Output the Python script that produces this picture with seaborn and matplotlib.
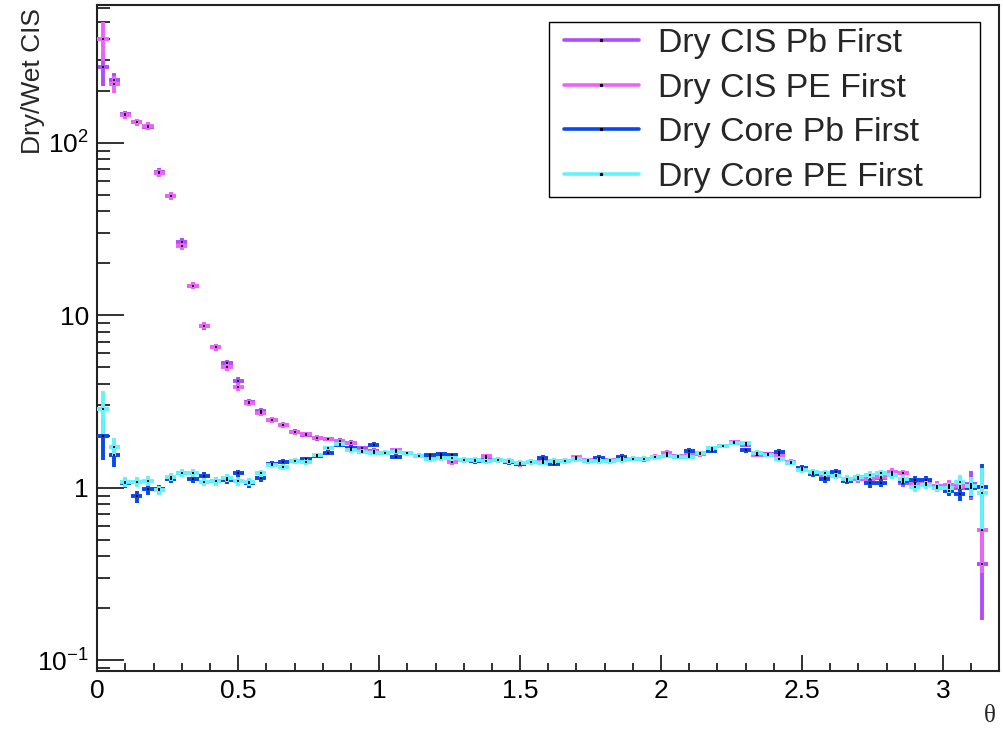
import numpy as np
import pandas as pd
import matplotlib
matplotlib.use("Agg")
import matplotlib.pyplot as plt
from matplotlib.lines import Line2D
from matplotlib.patches import Rectangle
from matplotlib.ticker import FixedLocator, FixedFormatter, LogLocator, MultipleLocator, NullFormatter
import seaborn as sns

# ---- histogram binning (80 bins of 0.04 on [0, 3.2]; the last filled bin is 3.12-3.16)
bin_width = 0.04
n_filled = 79
theta = (np.arange(n_filled) + 0.5) * bin_width

# ---- Dry/Wet ratios per bin
cis_pb = [273, 231, 146, 131, 124, 67.6, 49.3, 26.5, 14.8, 8.66,
          6.54, 5.28, 4.17, 3.12, 2.78, 2.48, 2.30, 2.10, 2.03, 1.94,
          1.92, 1.87, 1.82, 1.69, 1.64, 1.60, 1.65, 1.58, 1.53, 1.51,
          1.53, 1.48, 1.45, 1.44, 1.48, 1.45, 1.43, 1.38, 1.41, 1.44,
          1.42, 1.42, 1.48, 1.43, 1.44, 1.44, 1.47, 1.47, 1.46, 1.50,
          1.56, 1.52, 1.55, 1.57, 1.66, 1.74, 1.81, 1.78, 1.55, 1.56,
          1.56, 1.40, 1.28, 1.22, 1.16, 1.18, 1.12, 1.13, 1.12, 1.14,
          1.20, 1.07, 1.05, 1.06, 1.02, 1.02, 1.00, 1.05, 0.36]

cis_pe = [399, 218, 144, 131, 125, 67.0, 49.0, 25.3, 14.8, 8.70,
          6.50, 5.01, 3.82, 3.10, 2.72, 2.48, 2.31, 2.09, 2.04, 1.95,
          1.92, 1.86, 1.81, 1.63, 1.62, 1.60, 1.65, 1.58, 1.53, 1.51,
          1.50, 1.41, 1.45, 1.44, 1.52, 1.45, 1.42, 1.37, 1.41, 1.42,
          1.41, 1.42, 1.50, 1.44, 1.45, 1.44, 1.48, 1.47, 1.47, 1.51,
          1.60, 1.52, 1.56, 1.56, 1.67, 1.75, 1.83, 1.80, 1.55, 1.55,
          1.55, 1.41, 1.29, 1.21, 1.15, 1.17, 1.12, 1.12, 1.12, 1.15,
          1.24, 1.21, 1.06, 1.07, 1.03, 1.04, 1.02, 1.02, 0.57]

core_pb = [2.00, 1.55, 1.07, 0.89, 0.98, 0.98, 1.13, 1.21, 1.13, 1.17,
           1.09, 1.11, 1.21, 1.06, 1.14, 1.37, 1.41, 1.43, 1.46, 1.53,
           1.60, 1.78, 1.71, 1.62, 1.78, 1.60, 1.51, 1.58, 1.53, 1.55,
           1.56, 1.55, 1.45, 1.43, 1.43, 1.45, 1.41, 1.38, 1.41, 1.49,
           1.38, 1.43, 1.46, 1.43, 1.49, 1.43, 1.51, 1.47, 1.47, 1.50,
           1.53, 1.51, 1.64, 1.58, 1.64, 1.75, 1.82, 1.65, 1.58, 1.55,
           1.62, 1.40, 1.30, 1.20, 1.12, 1.23, 1.10, 1.15, 1.06, 1.07,
           1.18, 1.10, 1.11, 1.11, 1.00, 0.96, 0.915, 1.00, 1.01]

core_pe = [2.85, 1.73, 1.08, 1.08, 1.10, 0.97, 1.16, 1.22, 1.22, 1.08,
           1.09, 1.14, 1.09, 1.08, 1.21, 1.35, 1.32, 1.43, 1.41, 1.55,
           1.70, 1.80, 1.65, 1.62, 1.60, 1.60, 1.62, 1.58, 1.53, 1.46,
           1.48, 1.48, 1.45, 1.45, 1.43, 1.45, 1.43, 1.40, 1.41, 1.40,
           1.43, 1.43, 1.46, 1.43, 1.43, 1.43, 1.45, 1.47, 1.47, 1.50,
           1.53, 1.51, 1.51, 1.58, 1.69, 1.74, 1.82, 1.81, 1.60, 1.55,
           1.46, 1.40, 1.27, 1.24, 1.21, 1.17, 1.13, 1.15, 1.19, 1.21,
           1.18, 1.13, 1.01, 1.04, 1.00, 1.00, 1.08, 1.02, 0.935]

# ---- statistical uncertainties per bin
cis_pb_err = [60, 22, 7, 6, 6, 3.5, 2.6, 1.4, 0.7, 0.4,
              0.3, 0.25, 0.2, 0.14, 0.12, 0.1, 0.09, 0.08, 0.07, 0.07,
              0.06, 0.06, 0.06, 0.05, 0.05, 0.05, 0.05, 0.05, 0.05, 0.05,
              0.05, 0.05, 0.05, 0.05, 0.05, 0.05, 0.05, 0.05, 0.05, 0.05,
              0.05, 0.05, 0.05, 0.05, 0.05, 0.05, 0.05, 0.05, 0.05, 0.05,
              0.05, 0.05, 0.05, 0.05, 0.05, 0.05, 0.05, 0.05, 0.05, 0.05,
              0.05, 0.05, 0.05, 0.05, 0.05, 0.05, 0.05, 0.06, 0.06, 0.06,
              0.06, 0.06, 0.06, 0.06, 0.07, 0.07, 0.08, 0.20, 0.19]

cis_pe_err = [100, 25, 7, 6, 6, 3.5, 2.6, 1.4, 0.7, 0.4,
              0.3, 0.25, 0.2, 0.14, 0.12, 0.1, 0.09, 0.08, 0.07, 0.07,
              0.06, 0.06, 0.06, 0.05, 0.05, 0.05, 0.05, 0.05, 0.05, 0.05,
              0.05, 0.05, 0.05, 0.05, 0.05, 0.05, 0.05, 0.05, 0.05, 0.05,
              0.05, 0.05, 0.05, 0.05, 0.05, 0.05, 0.05, 0.05, 0.05, 0.05,
              0.05, 0.05, 0.05, 0.05, 0.05, 0.05, 0.05, 0.05, 0.05, 0.05,
              0.05, 0.05, 0.05, 0.05, 0.05, 0.05, 0.05, 0.06, 0.06, 0.06,
              0.06, 0.06, 0.06, 0.06, 0.07, 0.07, 0.08, 0.10, 0.25]

core_pb_err = [0.55, 0.24, 0.07, 0.07, 0.07, 0.06, 0.06, 0.06, 0.06, 0.06,
               0.06, 0.06, 0.06, 0.06, 0.06, 0.05, 0.05, 0.05, 0.05, 0.05,
               0.05, 0.05, 0.05, 0.05, 0.05, 0.05, 0.05, 0.05, 0.05, 0.05,
               0.05, 0.05, 0.05, 0.05, 0.05, 0.05, 0.05, 0.05, 0.05, 0.05,
               0.05, 0.05, 0.05, 0.05, 0.05, 0.05, 0.05, 0.05, 0.05, 0.05,
               0.05, 0.05, 0.05, 0.05, 0.05, 0.05, 0.05, 0.05, 0.05, 0.05,
               0.05, 0.05, 0.05, 0.05, 0.05, 0.05, 0.05, 0.05, 0.06, 0.06,
               0.06, 0.06, 0.06, 0.06, 0.06, 0.07, 0.08, 0.12, 0.37]

core_pe_err = [0.80, 0.20, 0.07, 0.07, 0.07, 0.06, 0.06, 0.06, 0.06, 0.06,
               0.06, 0.06, 0.06, 0.06, 0.06, 0.05, 0.05, 0.05, 0.05, 0.05,
               0.05, 0.05, 0.05, 0.05, 0.05, 0.05, 0.05, 0.05, 0.05, 0.05,
               0.05, 0.05, 0.05, 0.05, 0.05, 0.05, 0.05, 0.05, 0.05, 0.05,
               0.05, 0.05, 0.05, 0.05, 0.05, 0.05, 0.05, 0.05, 0.05, 0.05,
               0.05, 0.05, 0.05, 0.05, 0.05, 0.05, 0.05, 0.05, 0.05, 0.05,
               0.05, 0.05, 0.05, 0.05, 0.05, 0.05, 0.05, 0.05, 0.06, 0.06,
               0.06, 0.06, 0.06, 0.06, 0.06, 0.07, 0.10, 0.13, 0.36]

labels = ["Dry CIS Pb First", "Dry CIS PE First", "Dry Core Pb First", "Dry Core PE First"]
colors = ["#b04cfc", "#ec62fa", "#0a48ec", "#62f4fa"]
values = [cis_pb, cis_pe, core_pb, core_pe]
errors = [cis_pb_err, cis_pe_err, core_pb_err, core_pe_err]

x_ticks = [0, 0.5, 1, 1.5, 2, 2.5, 3]
x_tick_labels = ["0", "0.5", "1", "1.5", "2", "2.5", "3"]
y_ticks = [0.1, 1, 10, 100]
y_tick_labels = [r"$\mathregular{10^{-1}}$", "1", "10", r"$\mathregular{10^{2}}$"]

frames = []
for lab, v, e in zip(labels, values, errors):
    frames.append(pd.DataFrame({"theta": theta, "ratio": v, "err": e, "series": lab}))
df = pd.concat(frames, ignore_index=True)

sns.set_theme(style="ticks")
plt.rcParams["font.family"] = ["Liberation Sans", "DejaVu Sans"]
plt.rcParams["mathtext.fontset"] = "custom"
plt.rcParams["mathtext.rm"] = "Liberation Sans"
plt.rcParams["mathtext.it"] = "Liberation Sans:italic"

fig = plt.figure(figsize=(10.04, 7.30), dpi=100)
fig.patch.set_facecolor("white")
ax = fig.add_axes([0.0969, 0.0808, 0.8984, 0.9128])
ax.set_facecolor("white")

# error crosses, one histogram at a time (later ones drawn on top)
for i, (lab, col) in enumerate(zip(labels, colors)):
    sub = df[df["series"] == lab]
    ax.errorbar(sub["theta"], sub["ratio"], yerr=sub["err"], xerr=bin_width / 2,
                fmt="none", ecolor=col, elinewidth=2.8, capsize=0, zorder=2 + i)

# bin-centre dots
sns.scatterplot(data=df, x="theta", y="ratio", color="black", marker="s", s=2.5,
                linewidth=0, legend=False, ax=ax, zorder=10)

ax.set_yscale("log")
ax.set_xlim(0, 3.2)
ax.set_ylim(0.0866, 631)
ax.set_xlabel("")
ax.set_ylabel("")

ax.xaxis.set_major_locator(FixedLocator(x_ticks))
ax.xaxis.set_major_formatter(FixedFormatter(x_tick_labels))
ax.xaxis.set_minor_locator(MultipleLocator(0.1))
ax.yaxis.set_major_locator(FixedLocator(y_ticks))
ax.yaxis.set_major_formatter(FixedFormatter(y_tick_labels))
ax.yaxis.set_minor_locator(LogLocator(base=10, subs=np.arange(2, 10)))
ax.yaxis.set_minor_formatter(NullFormatter())

ax.tick_params(axis="both", which="both", direction="in", color="#222222", width=1.3,
               top=False, right=False, labelsize=19, labelcolor="black")
ax.tick_params(axis="x", which="major", length=11.5, pad=6)
ax.tick_params(axis="x", which="minor", length=6)
ax.tick_params(axis="y", which="major", length=19.5, pad=6)
ax.tick_params(axis="y", which="minor", length=9.5)

for s in ax.spines.values():
    s.set_visible(True)
    s.set_color("#222222")
    s.set_linewidth(1.5)

# axis titles at the ends of the axes
fig.text(33 / 1004, 1 - 8 / 730, "Dry/Wet CIS", rotation=90, ha="center", va="top",
         fontsize=19)
fig.text(990 / 1004, 1 - 727 / 730, "θ", ha="center", va="bottom", fontsize=18,
         family=["Liberation Serif", "DejaVu Serif"])

# legend box
x0, x1 = 549 / 1004, 980 / 1004
y0, y1 = 1 - 197 / 730, 1 - 22 / 730
fig.add_artist(Rectangle((x0, y0), x1 - x0, y1 - y0, transform=fig.transFigure,
                         facecolor="white", edgecolor="black", linewidth=1.0, zorder=20))
handles = [Line2D([0], [0], color=c, lw=2.6, marker="s", markersize=1.3,
                  markerfacecolor="black", markeredgecolor="black") for c in colors]
leg = fig.legend(handles, labels, loc="upper left", bbox_to_anchor=(564 / 1004, 1 - 28 / 730),
                 bbox_transform=fig.transFigure, frameon=False, fontsize=24.4,
                 handlelength=2.2, handletextpad=0.56, labelspacing=0.4,
                 borderpad=0, borderaxespad=0)
leg.set_zorder(21)

fig.savefig("out.png", dpi=100, facecolor="white")
